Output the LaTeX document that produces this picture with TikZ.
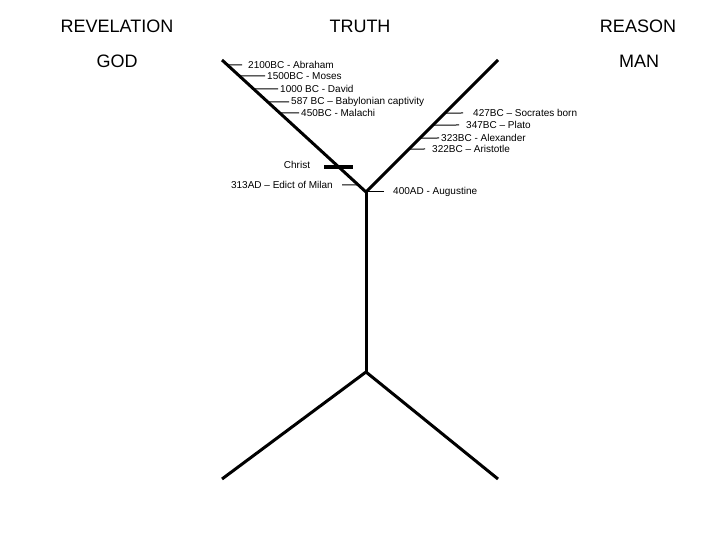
\documentclass[tikz,border=0pt]{standalone}
\usepackage{fontspec}
\setmainfont{Liberation Sans}

\begin{document}
\begin{tikzpicture}[x=1pt,y=-1pt,
  title/.style={font=\fontsize{18}{20}\selectfont},
  event/.style={font=\fontsize{10}{12}\selectfont,anchor=west,inner xsep=2pt,inner ysep=1pt},
  arm/.style={line width=3pt,line join=round},
  tick/.style={line width=1pt}]
\useasboundingbox (0,0) rectangle (720,540);
\node [title] (revelation) at (117,26) {REVELATION};
\node [title] (god) at (117,61) {GOD};
\node [title] (truth) at (360,26) {TRUTH};
\node [title] (reason) at (638,26) {REASON};
\node [title] (man) at (639,61) {MAN};
\coordinate (gtop) at (222,60);
\coordinate (mtop) at (498,60);
\coordinate (join) at (366,192);
\coordinate (base) at (366,372);
\coordinate (bl) at (222,479);
\coordinate (br) at (498,479);
\draw [arm] (gtop) -- (join) -- (mtop);
\draw [arm] (join) -- (base);
\draw [arm] (bl) -- (base) -- (br);
\node [event,inner xsep=6pt] (abraham) at (242,65) {2100BC - Abraham};
\node [event] (moses) at (265,76) {1500BC - Moses};
\node [event] (david) at (278,89) {1000 BC - David};
\node [event] (babylon) at (289,102) {587 BC -- Babylonian captivity};
\node [event] (malachi) at (299,113) {450BC - Malachi};
\node [event,inner xsep=10pt] (socrates) at (463,113) {427BC -- Socrates born};
\node [event,inner xsep=7pt] (plato) at (459,125) {347BC -- Plato};
\node [event] (alexander) at (439,138) {323BC - Alexander};
\node [event,inner xsep=7pt] (aristotle) at (425,149) {322BC -- Aristotle};
\node [event,anchor=east,inner xsep=9pt] (milan) at (342,185) {313AD -- Edict of Milan};
\node [event,inner xsep=9pt] (augustine) at (384,192) {400AD - Augustine};
\node [event,anchor=center] (christ) at (297,165) {Christ};
\foreach \e in {abraham,moses,david,babylon,malachi}
  \draw [tick] (\e.west) -- (intersection of \e.west--\e.east and gtop--join);
\foreach \e in {socrates,plato,alexander,aristotle}
  \draw [tick] (\e.west) -- (intersection of \e.west--\e.east and mtop--join);
\draw [tick] (milan.east) -- (intersection of milan.east--milan.west and gtop--join);
\draw [tick] (augustine.west) -- (augustine.west -| join);
\coordinate (crossl) at (324,167);
\coordinate (crossr) at (353,167);
\draw [line width=4pt] (crossl) -- (crossr);
\end{tikzpicture}
\end{document}
